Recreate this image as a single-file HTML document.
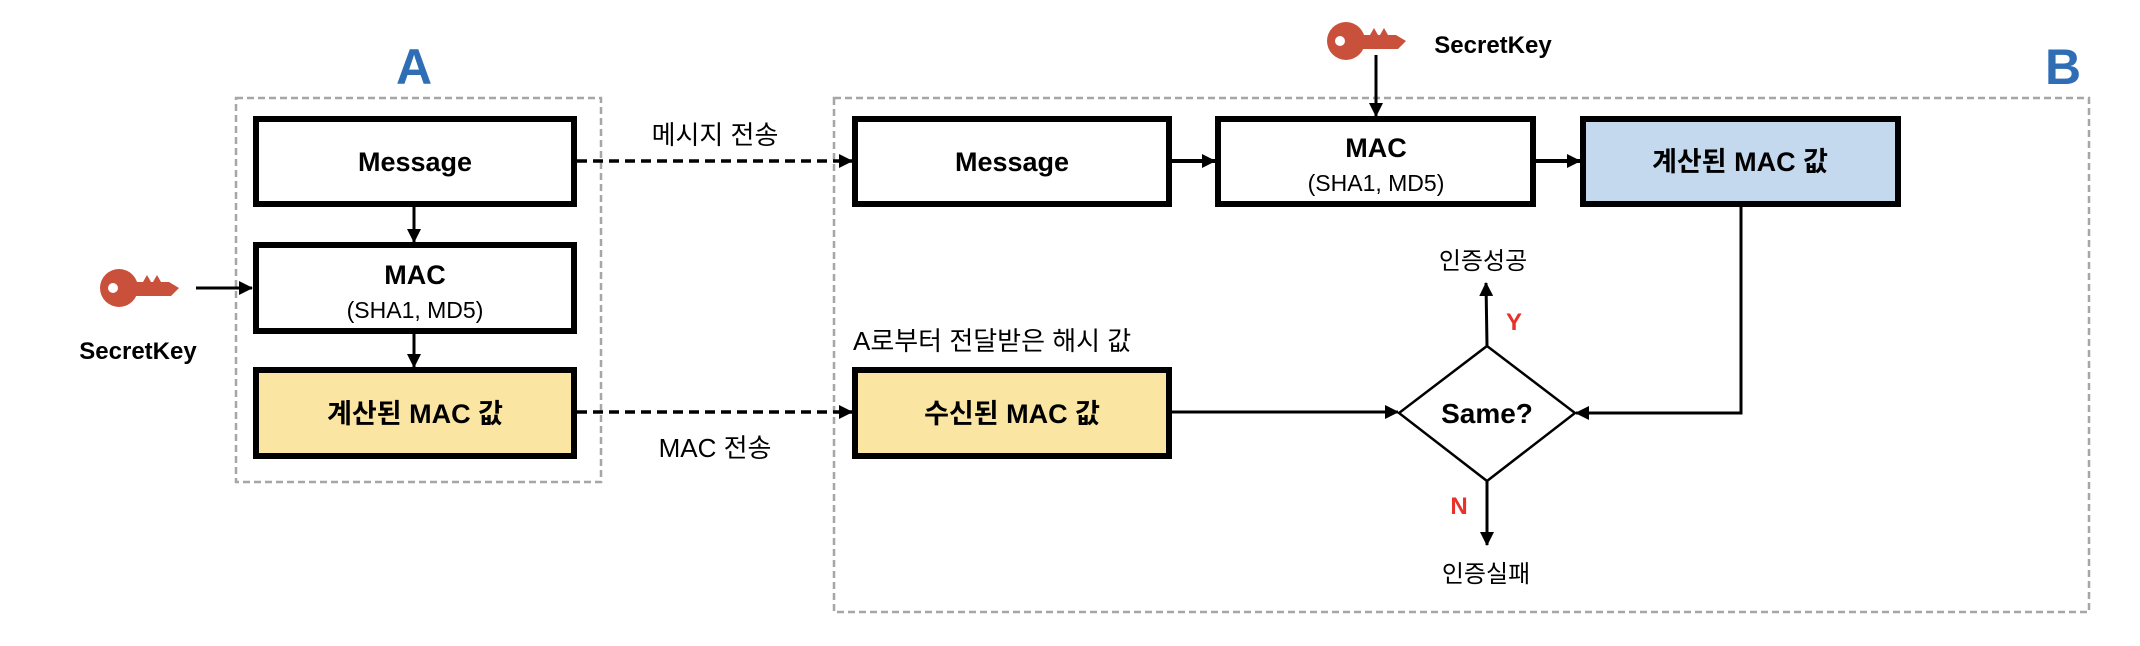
<!DOCTYPE html>
<html><head><meta charset="utf-8"><style>
html,body{margin:0;padding:0;background:#fff;}
svg{display:block;}
text{font-family:"Liberation Sans","Noto Sans CJK KR",sans-serif;}
</style></head><body>
<svg width="2140" height="646" viewBox="0 0 2140 646" xmlns="http://www.w3.org/2000/svg">
<defs>
<marker id="ah" markerWidth="14" markerHeight="14" refX="13" refY="7" orient="auto" markerUnits="userSpaceOnUse">
<path d="M0,0 L14,7 L0,14 z" fill="#000"/></marker>
<g id="key">
<circle cx="20" cy="19" r="19" fill="#C9503A"/>
<circle cx="14" cy="19" r="5" fill="#fff"/>
<path d="M34,13 H70 L80,19 L72,27 H36 z" fill="#C9503A"/>
<path d="M44,13 l4,-7 l4,7 M54,13 l4,-7 l4,7" fill="#C9503A"/>
</g>
</defs>

<rect x="236" y="98" width="365" height="384" fill="none" stroke="#A6A6A6" stroke-width="2.5" stroke-dasharray="7,4"/>
<rect x="834" y="98" width="1255" height="514" fill="none" stroke="#A6A6A6" stroke-width="2.5" stroke-dasharray="7,4"/>

<text x="414" y="84" text-anchor="middle" font-size="50" font-weight="bold" fill="#2F6DB5">A</text>
<text x="2063" y="84" text-anchor="middle" font-size="50" font-weight="bold" fill="#2F6DB5">B</text>

<rect x="256" y="119" width="318" height="85" fill="#fff" stroke="#000" stroke-width="6"/>
<text x="415" y="171" text-anchor="middle" font-size="27" font-weight="bold">Message</text>
<rect x="256" y="245" width="318" height="86" fill="#fff" stroke="#000" stroke-width="6"/>
<text x="415" y="284" text-anchor="middle" font-size="27" font-weight="bold">MAC</text>
<text x="415" y="318" text-anchor="middle" font-size="23">(SHA1, MD5)</text>
<rect x="256" y="370" width="318" height="86" fill="#FBE5A2" stroke="#000" stroke-width="6"/>
<text x="415" y="423" text-anchor="middle" font-size="27" font-weight="bold">계산된 MAC 값</text>

<line x1="414" y1="207" x2="414" y2="242" stroke="#000" stroke-width="3" marker-end="url(#ah)"/>
<line x1="414" y1="334" x2="414" y2="367" stroke="#000" stroke-width="3" marker-end="url(#ah)"/>

<use href="#key" x="99" y="269"/>
<line x1="196" y1="288" x2="252" y2="288" stroke="#000" stroke-width="3" marker-end="url(#ah)"/>
<text x="138" y="359" text-anchor="middle" font-size="24" font-weight="bold">SecretKey</text>

<text x="715" y="144" text-anchor="middle" font-size="26">메시지 전송</text>
<line x1="577" y1="161" x2="852" y2="161" stroke="#000" stroke-width="3.5" stroke-dasharray="10,6" marker-end="url(#ah)"/>
<line x1="577" y1="412" x2="852" y2="412" stroke="#000" stroke-width="3.5" stroke-dasharray="10,6" marker-end="url(#ah)"/>
<text x="715" y="457" text-anchor="middle" font-size="26">MAC 전송</text>

<rect x="855" y="119" width="314" height="85" fill="#fff" stroke="#000" stroke-width="6"/>
<text x="1012" y="171" text-anchor="middle" font-size="27" font-weight="bold">Message</text>
<rect x="1218" y="119" width="315" height="85" fill="#fff" stroke="#000" stroke-width="6"/>
<text x="1376" y="157" text-anchor="middle" font-size="27" font-weight="bold">MAC</text>
<text x="1376" y="191" text-anchor="middle" font-size="23">(SHA1, MD5)</text>
<rect x="1583" y="119" width="315" height="85" fill="#C5D9EE" stroke="#000" stroke-width="6"/>
<text x="1740" y="171" text-anchor="middle" font-size="27" font-weight="bold">계산된 MAC 값</text>

<line x1="1172" y1="161" x2="1215" y2="161" stroke="#000" stroke-width="4" marker-end="url(#ah)"/>
<line x1="1536" y1="161" x2="1580" y2="161" stroke="#000" stroke-width="4" marker-end="url(#ah)"/>

<use href="#key" x="1326" y="22"/>
<line x1="1376" y1="55" x2="1376" y2="116" stroke="#000" stroke-width="3" marker-end="url(#ah)"/>
<text x="1493" y="53" text-anchor="middle" font-size="24" font-weight="bold">SecretKey</text>

<text x="853" y="350" font-size="26">A로부터 전달받은 해시 값</text>
<rect x="855" y="370" width="314" height="86" fill="#FBE5A2" stroke="#000" stroke-width="6"/>
<text x="1012" y="423" text-anchor="middle" font-size="27" font-weight="bold">수신된 MAC 값</text>

<polygon points="1487,346 1575,413 1487,481 1399,413" fill="#fff" stroke="#000" stroke-width="2.5"/>
<text x="1487" y="423" text-anchor="middle" font-size="28" font-weight="bold">Same?</text>

<line x1="1172" y1="412" x2="1398" y2="412" stroke="#000" stroke-width="3" marker-end="url(#ah)"/>
<polyline points="1741,207 1741,413 1576,413" fill="none" stroke="#000" stroke-width="3" marker-end="url(#ah)"/>

<line x1="1487" y1="346" x2="1486" y2="283" stroke="#000" stroke-width="3" marker-end="url(#ah)"/>
<text x="1514" y="330" text-anchor="middle" font-size="24" font-weight="bold" fill="#E8312A">Y</text>
<text x="1483" y="269" text-anchor="middle" font-size="24">인증성공</text>

<line x1="1487" y1="481" x2="1487" y2="545" stroke="#000" stroke-width="3" marker-end="url(#ah)"/>
<text x="1459" y="514" text-anchor="middle" font-size="24" font-weight="bold" fill="#E8312A">N</text>
<text x="1486" y="582" text-anchor="middle" font-size="24">인증실패</text>
</svg>
</body></html>
